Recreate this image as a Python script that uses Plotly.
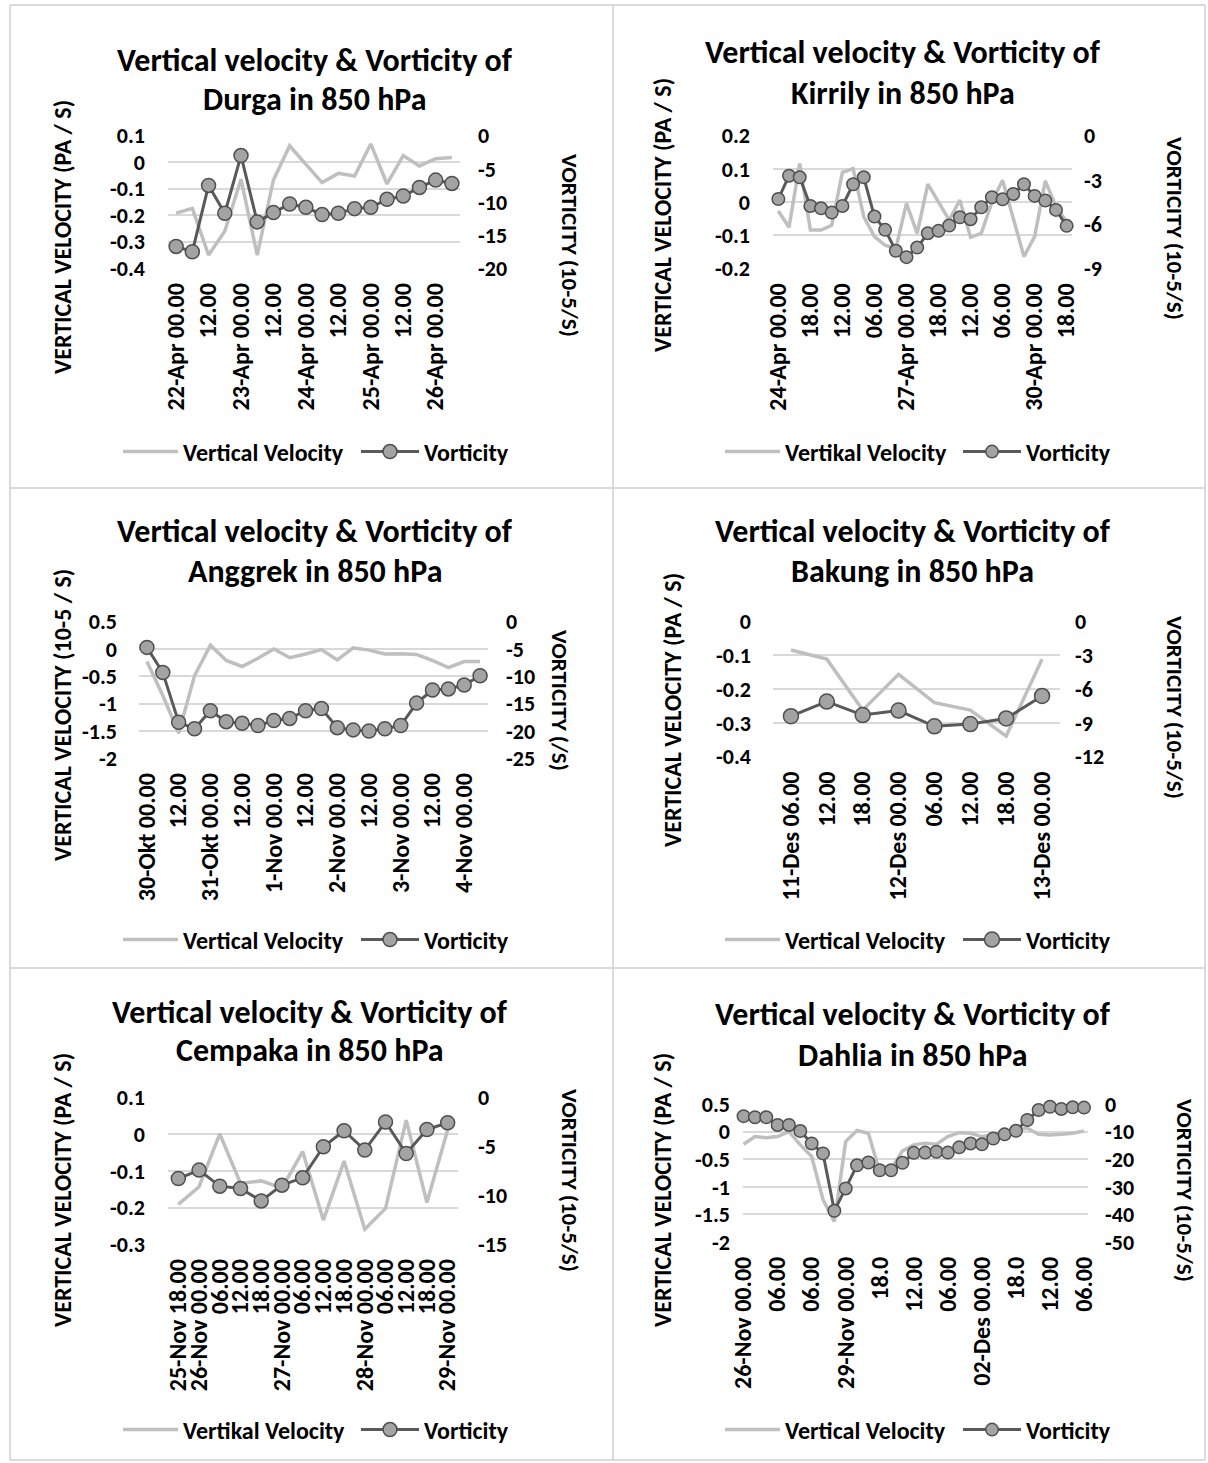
import plotly.graph_objects as go

W, H = 1208, 1463
FONT = "Carlito, Lato, 'Open Sans', sans-serif"

# ---------------- data ----------------
durga_ticks = ["22-Apr 00.00", "12.00", "23-Apr 00.00", "12.00", "24-Apr 00.00",
               "12.00", "25-Apr 00.00", "12.00", "26-Apr 00.00"]
durga_vv = [-0.192, -0.174, -0.35, -0.26, -0.064, -0.35, -0.067, 0.062, -0.008,
            -0.077, -0.042, -0.052, 0.069, -0.082, 0.025, -0.014, 0.013, 0.018]
durga_vort = [-16.7, -17.5, -7.5, -11.7, -3.0, -13.0, -11.6, -10.3, -10.8,
              -11.9, -11.7, -11.0, -10.8, -9.6, -9.1, -7.8, -6.7, -7.2]

kirrily_ticks = ["24-Apr 00.00", "18.00", "12.00", "06.00", "27-Apr 00.00",
                 "18.00", "12.00", "06.00", "30-Apr 00.00", "18.00"]
kirrily_vv = [-0.027, -0.076, 0.116, -0.084, -0.084, -0.07, 0.09, 0.101, -0.044,
              -0.104, -0.13, -0.14, -0.004, -0.094, 0.054, -0.002, -0.054, 0.006,
              -0.106, -0.094, 0.0, 0.066, -0.05, -0.164, -0.104, 0.064, -0.014, -0.059]
kirrily_vort = [-4.29, -2.71, -2.82, -4.76, -4.92, -5.21, -4.76, -3.29, -2.82,
                -5.48, -6.38, -7.80, -8.23, -7.58, -6.61, -6.45, -6.09, -5.53,
                -5.66, -4.85, -4.17, -4.31, -3.95, -3.29, -4.08, -4.40, -5.03, -6.11]

anggrek_ticks = ["30-Okt 00.00", "12.00", "31-Okt 00.00", "12.00", "1-Nov 00.00",
                 "12.00", "2-Nov 00.00", "12.00", "3-Nov 00.00", "12.00", "4-Nov 00.00"]
anggrek_vv = [-0.23, -0.85, -1.54, -0.49, 0.07, -0.21, -0.32, -0.17, 0.0, -0.16, -0.09,
              -0.01, -0.20, 0.02, -0.02, -0.09, -0.085, -0.10, -0.21, -0.34, -0.23, -0.23]
anggrek_vort = [-4.7, -9.3, -18.4, -19.6, -16.3, -18.3, -18.6, -19.0, -18.1, -17.7, -16.3,
                -15.9, -19.4, -19.8, -20.0, -19.6, -19.0, -14.9, -12.5, -12.3, -11.6, -9.9]

bakung_ticks = ["11-Des 06.00", "12.00", "18.00", "12-Des 00.00", "06.00",
                "12.00", "18.00", "13-Des 00.00"]
bakung_vv = [-0.084, -0.111, -0.262, -0.156, -0.240, -0.262, -0.339, -0.111]
bakung_vort = [-8.4, -7.1, -8.3, -7.9, -9.3, -9.1, -8.6, -6.6]

cempaka_ticks = ["25-Nov 18.00", "26-Nov 00.00", "06.00", "12.00", "18.00",
                 "27-Nov 00.00", "06.00", "12.00", "18.00", "28-Nov 00.00",
                 "06.00", "12.00", "18.00", "29-Nov 00.00"]
cempaka_vv = [-0.191, -0.143, 0.001, -0.134, -0.127, -0.147, -0.047, -0.234, -0.073,
              -0.259, -0.202, 0.039, -0.186, 0.012]
cempaka_vort = [-8.27, -7.41, -9.05, -9.29, -10.56, -8.95, -8.20, -5.02, -3.38,
                -5.36, -2.49, -5.71, -3.25, -2.56]

dahlia_ticks = ["26-Nov 00.00", "06.00", "06.00", "29-Nov 00.00", "18.0", "12.00",
                "06.00", "02-Des 00.00", "18.0", "12.00", "06.00"]
dahlia_vv = [-0.23, -0.09, -0.11, -0.09, 0.0, -0.24, -0.45, -1.23, -1.63, -0.18, 0.02,
             -0.03, -0.73, -0.69, -0.35, -0.24, -0.21, -0.23, -0.09, -0.02, -0.03,
             -0.09, -0.06, 0.0, 0.03, 0.06, -0.05, -0.06, -0.05, -0.03, 0.01]
dahlia_vort = [-4.4, -4.8, -4.8, -7.6, -7.6, -9.8, -14.3, -17.9, -38.7, -30.6, -22.2,
               -21.2, -24.0, -24.0, -21.3, -17.7, -17.6, -17.3, -17.6, -15.7, -14.3,
               -14.6, -12.5, -11.0, -9.7, -5.8, -2.2, -1.0, -1.8, -1.2, -1.3]

# ---------------- styling / layout config ----------------
VV_COLOR = "#BFBFBF"
VORT_LINE = "#595959"
VORT_FILL = "#A3A3A3"
VORT_EDGE = "#4F4F4F"
GRID = "#D9D9D9"
FRAME = "#CFCFCF"


def fx(px):
    return px / W


def fy(py):
    return 1 - py / H


panels = [
    dict(vv=durga_vv, vort=durga_vort, ticks=durga_ticks, step=2,
         name="Durga", vv_name="Vertical Velocity",
         ytitle="VERTICAL VELOCITY (PA / S)", y2title="VORTICITY (10-5/S)",
         yr=(-0.4, 0.1, 0.1), y2r=(-20, 0, 5), pad=(0.5, 0.5),
         box=(168, 460, 135.7, 268.3), title_xy=(315, 60, 100),
         ytitle_xy=(62, 237), y2title_xy=(570, 245), legend_xy=(118, 452),
         ysoff=22, y2soff=17, msize=14),
    dict(vv=kirrily_vv, vort=kirrily_vort, ticks=kirrily_ticks, step=3,
         name="Kirrily", vv_name="Vertikal Velocity",
         ytitle="VERTICAL VELOCITY (PA / S)", y2title="VORTICITY (10-5/S)",
         yr=(-0.2, 0.2, 0.1), y2r=(-9, 0, 3), pad=(0.5, 0.5),
         box=(773, 1072, 135.7, 268.5), title_xy=(903, 52, 93),
         ytitle_xy=(662, 215), y2title_xy=(1175, 228), legend_xy=(720, 452),
         ysoff=22, y2soff=11, msize=12.5),
    dict(vv=anggrek_vv, vort=anggrek_vort, ticks=anggrek_ticks, step=2,
         name="Anggrek", vv_name="Vertical Velocity",
         ytitle="VERTICAL VELOCITY (10-5 / S)", y2title="VORTICITY (/S)",
         yr=(-2, 0.5, 0.5), y2r=(-25, 0, 5), pad=(0.5, 0.5),
         box=(139, 488, 621.7, 758.3), title_xy=(315, 531, 571),
         ytitle_xy=(62, 715), y2title_xy=(560, 700), legend_xy=(118, 940),
         ysoff=21, y2soff=17, msize=14),
    dict(vv=bakung_vv, vort=bakung_vort, ticks=bakung_ticks, step=1,
         name="Bakung", vv_name="Vertical Velocity",
         ytitle="VERTICAL VELOCITY (PA / S)", y2title="VORTICITY (10-5/S)",
         yr=(-0.4, 0.0, 0.1), y2r=(-12, 0, 3), pad=(0.5, 0.5),
         box=(773, 1060, 621.7, 756.7), title_xy=(913, 531, 571),
         ytitle_xy=(672, 710), y2title_xy=(1175, 707), legend_xy=(720, 940),
         ysoff=21, y2soff=14, msize=15),
    dict(vv=cempaka_vv, vort=cempaka_vort, ticks=cempaka_ticks, step=1,
         name="Cempaka", vv_name="Vertikal Velocity",
         ytitle="VERTICAL VELOCITY (PA / S)", y2title="VORTICITY (10-5/S)",
         yr=(-0.3, 0.1, 0.1), y2r=(-15, 0, 5), pad=(0.5, 0.5),
         box=(168, 458, 1097.7, 1244.3), title_xy=(310, 1012, 1050),
         ytitle_xy=(62, 1190), y2title_xy=(570, 1180), legend_xy=(118, 1430),
         ysoff=22, y2soff=19, msize=14),
    dict(vv=dahlia_vv, vort=dahlia_vort, ticks=dahlia_ticks, step=3,
         name="Dahlia", vv_name="Vertical Velocity",
         ytitle="VERTICAL VELOCITY (PA / S)", y2title="VORTICITY (10-5/S)",
         yr=(-2, 0.5, 0.5), y2r=(-50, 0, 10), pad=(0.05, 0.35),
         box=(743, 1088, 1104, 1242), title_xy=(913, 1015, 1055),
         ytitle_xy=(662, 1190), y2title_xy=(1185, 1190), legend_xy=(720, 1430),
         ysoff=12, y2soff=16, msize=12.5),
]


def ticks_for(lo, hi, step):
    n = int(round((hi - lo) / step))
    vals = [round(lo + i * step, 6) for i in range(n + 1)]
    txt = []
    for v in vals:
        s = f"{v:g}"
        if s == "-0":
            s = "0"
        txt.append(s)
    return vals, txt


fig = go.Figure()
layout = dict(
    width=W, height=H, autosize=False,
    margin=dict(l=0, r=0, t=0, b=0),
    paper_bgcolor="white", plot_bgcolor="rgba(0,0,0,0)",
    font=dict(family=FONT, color="black"),
    showlegend=True,
    annotations=[], shapes=[],
)

TICKFONT = dict(family=FONT, size=22, color="black", weight="bold")
XTICKFONT = dict(family=FONT, size=24, color="black", weight="bold")
YTITLEFONT = dict(family=FONT, size=24, color="black", weight="bold")
Y2TITLEFONT = dict(family=FONT, size=23, color="black", weight="bold")
TITLEFONT = dict(family=FONT, size=32, color="black", weight="bold")
LEGFONT = dict(family=FONT, size=24, color="black", weight="bold")

for k, p in enumerate(panels):
    i = k + 1
    xid = "x" if i == 1 else f"x{i}"
    ya_n, yb_n = 2 * i - 1, 2 * i
    yid = "y" if ya_n == 1 else f"y{ya_n}"
    y2id = f"y{yb_n}"
    xkey = "xaxis" if i == 1 else f"xaxis{i}"
    ykey = "yaxis" if ya_n == 1 else f"yaxis{ya_n}"
    y2key = f"yaxis{yb_n}"
    leg1 = "legend" if 2 * i - 1 == 1 else f"legend{2 * i - 1}"
    leg2 = f"legend{2 * i}"

    n = len(p["vv"])
    xs = list(range(n))
    tickvals = list(range(0, n, p["step"]))[:len(p["ticks"])]

    fig.add_trace(go.Scatter(
        x=xs, y=p["vv"], mode="lines", name=p["vv_name"],
        line=dict(color=VV_COLOR, width=3.5), xaxis=xid, yaxis=yid,
        legend=leg1, showlegend=True, cliponaxis=False, hoverinfo="skip"))
    fig.add_trace(go.Scatter(
        x=xs, y=p["vort"], mode="lines+markers", name="Vorticity",
        line=dict(color=VORT_LINE, width=3),
        marker=dict(size=p["msize"], color=VORT_FILL,
                    line=dict(color=VORT_EDGE, width=1.5)),
        xaxis=xid, yaxis=y2id, legend=leg2, showlegend=True, cliponaxis=False,
        hoverinfo="skip"))

    l, r, t, b = p["box"]
    yv, yt = ticks_for(*p["yr"])
    y2v, y2t = ticks_for(*p["y2r"])
    layout[xkey] = dict(
        domain=[fx(l), fx(r)], anchor=yid, automargin=False,
        range=[-p["pad"][0], n - 1 + p["pad"][1]],
        tickmode="array", tickvals=tickvals, ticktext=p["ticks"],
        tickangle=-90, tickfont=XTICKFONT, showgrid=False, zeroline=False,
        showline=False, ticks="", ticklabelstandoff=9)
    layout[ykey] = dict(
        domain=[fy(b), fy(t)], anchor=xid, automargin=False,
        range=[p["yr"][0], p["yr"][1]],
        tickmode="array", tickvals=yv, ticktext=yt, tickfont=TICKFONT,
        showgrid=True, gridcolor=GRID, gridwidth=1.5, zeroline=False,
        showline=False, ticks="", ticklabelstandoff=p["ysoff"])
    layout[y2key] = dict(
        overlaying=yid, side="right", anchor=xid, automargin=False,
        range=[p["y2r"][0], p["y2r"][1]],
        tickmode="array", tickvals=y2v, ticktext=y2t, tickfont=TICKFONT,
        showgrid=False, zeroline=False, showline=False, ticks="",
        ticklabelstandoff=p["y2soff"])

    tx, ty1, ty2 = p["title_xy"]
    for txt, ty in (("Vertical velocity & Vorticity of", ty1),
                    (f"{p['name']} in 850 hPa", ty2)):
        layout["annotations"].append(dict(
            text=txt, x=fx(tx), y=fy(ty), xref="paper", yref="paper",
            xanchor="center", yanchor="middle", showarrow=False, font=TITLEFONT))
    ax, ay = p["ytitle_xy"]
    layout["annotations"].append(dict(
        text=p["ytitle"], x=fx(ax), y=fy(ay), xref="paper", yref="paper",
        xanchor="center", yanchor="middle", showarrow=False, textangle=-90,
        font=YTITLEFONT))
    bx, by = p["y2title_xy"]
    layout["annotations"].append(dict(
        text=p["y2title"], x=fx(bx), y=fy(by), xref="paper", yref="paper",
        xanchor="center", yanchor="middle", showarrow=False, textangle=90,
        font=Y2TITLEFONT))

    lx, ly = p["legend_xy"]
    layout[leg1] = dict(x=fx(lx), y=fy(ly), xanchor="left", yanchor="middle",
                        orientation="h", font=LEGFONT, itemwidth=55, visible=True,
                        bgcolor="rgba(0,0,0,0)", borderwidth=0)
    layout[leg2] = dict(x=fx(lx + 238), y=fy(ly), xanchor="left", yanchor="middle",
                        orientation="h", font=LEGFONT, itemwidth=58, visible=True,
                        bgcolor="rgba(0,0,0,0)", borderwidth=0)

# panel frame lines
frame = [
    (10, 5, 1205, 5), (10, 1460, 1205, 1460), (10, 5, 10, 1460), (1205, 5, 1205, 1460),
    (613, 5, 613, 1460), (10, 488, 1205, 488), (10, 968, 1205, 968),
]
for x0, y0, x1, y1 in frame:
    layout["shapes"].append(dict(type="line", xref="paper", yref="paper",
                                 x0=fx(x0), y0=fy(y0), x1=fx(x1), y1=fy(y1),
                                 line=dict(color=FRAME, width=1.5)))

fig.update_layout(**layout)
fig.write_html("out.html",
               config={"displayModeBar": False},
               post_script="document.body.style.margin='0';")
